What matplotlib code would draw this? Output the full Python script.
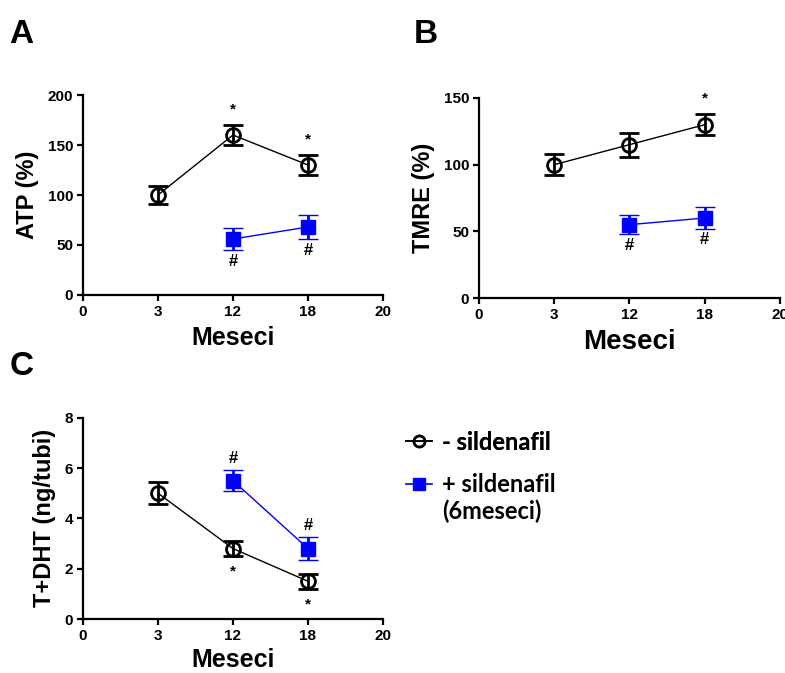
import matplotlib.pyplot as plt
from matplotlib.lines import Line2D

plt.rcParams['font.family'] = ['Liberation Sans', 'DejaVu Sans']
plt.rcParams['font.weight'] = 'bold'

# x axis is categorical in the original (equal spacing)
months = ['0', '3', '12', '18', '20']
ctrl_months = ['3', '12', '18']
sild_months = ['12', '18']

atp_ctrl = [100, 160, 130]
atp_ctrl_err = [9, 10, 10]
atp_sild = [56, 68]
atp_sild_err = [11, 12]

tmre_ctrl = [100, 115, 130]
tmre_ctrl_err = [8, 9, 8]
tmre_sild = [55, 60]
tmre_sild_err = [7, 8]

t_ctrl = [5.0, 2.8, 1.5]
t_ctrl_err = [0.44, 0.3, 0.3]
t_sild = [5.5, 2.8]
t_sild_err = [0.43, 0.46]

# significance marks
atp_ctrl_marks = ['', '*', '*']
atp_sild_marks = ['#', '#']
tmre_ctrl_marks = ['', '', '*']
tmre_sild_marks = ['#', '#']
t_ctrl_marks = ['', '*', '*']
t_sild_marks = ['#', '#']

BLUE = '#0000ff'

fig = plt.figure(figsize=(7.85, 6.73), dpi=100)


def panel(rect, ctrl, ctrl_err, sild, sild_err, ylim, yticks, ylabel, xlabel_size, xpad,
          ctrl_marks, sild_marks, ctrl_dir, sild_dir):
    ax = fig.add_axes(rect)
    xc = [months.index(m) for m in ctrl_months]
    xs = [months.index(m) for m in sild_months]
    hc = ax.errorbar(xc, ctrl, yerr=ctrl_err, fmt='-o', color='black', lw=1,
                     ms=10, mfc='none', mec='black', mew=2,
                     elinewidth=2, capsize=7, capthick=2, zorder=3)
    hs = ax.errorbar(xs, sild, yerr=sild_err, fmt='-s', color=BLUE, lw=1,
                     ms=10, mfc=BLUE, mec=BLUE, mew=1,
                     elinewidth=2, capsize=7, capthick=2, zorder=3)
    for x, v, e, m in zip(xc, ctrl, ctrl_err, ctrl_marks):
        if m:
            y = v + e if ctrl_dir == 'up' else v - e
            off = 11 if ctrl_dir == 'up' else -11
            ax.annotate(m, (x, y), xytext=(0, off), textcoords='offset points',
                        ha='center', va='center', fontsize=11, fontweight='bold')
    for x, v, e, m in zip(xs, sild, sild_err, sild_marks):
        if m:
            y = v + e if sild_dir == 'up' else v - e
            off = 8 if sild_dir == 'up' else -8
            ax.annotate(m, (x, y), xytext=(0, off), textcoords='offset points',
                        ha='center', va='center', fontsize=12, fontweight='bold')
    ax.set_xlim(0, 4)
    ax.set_xticks(range(len(months)))
    ax.set_xticklabels(months)
    ax.set_ylim(*ylim)
    ax.set_yticks(yticks)
    ax.spines['top'].set_visible(False)
    ax.spines['right'].set_visible(False)
    for s in ['left', 'bottom']:
        ax.spines[s].set_linewidth(1.6)
    ax.tick_params(direction='out', length=4, width=1.6, labelsize=11, pad=3)
    for lab in ax.get_xticklabels() + ax.get_yticklabels():
        lab.set_fontweight('bold')
    ax.set_ylabel(ylabel, fontsize=17, fontweight='bold', labelpad=6)
    ax.set_xlabel('Meseci', fontsize=xlabel_size, fontweight='bold', labelpad=xpad)
    return ax, hc, hs


panel([0.1057, 0.5617, 0.3822, 0.2971], atp_ctrl, atp_ctrl_err, atp_sild, atp_sild_err,
      (0, 200), [0, 50, 100, 150, 200], 'ATP (%)', 18, 5,
      atp_ctrl_marks, atp_sild_marks, 'up', 'down')
panel([0.6102, 0.5572, 0.3834, 0.2972], tmre_ctrl, tmre_ctrl_err, tmre_sild, tmre_sild_err,
      (0, 150), [0, 50, 100, 150], 'TMRE (%)', 20, 5,
      tmre_ctrl_marks, tmre_sild_marks, 'up', 'down')
panel([0.1057, 0.0802, 0.3822, 0.2991], t_ctrl, t_ctrl_err, t_sild, t_sild_err,
      (0, 8), [0, 2, 4, 6, 8], 'T+DHT (ng/tubi)', 18, 4,
      t_ctrl_marks, t_sild_marks, 'down', 'up')

fig.text(0.012, 0.948, 'A', fontsize=24, fontweight='bold', va='center')
fig.text(0.527, 0.948, 'B', fontsize=24, fontweight='bold', va='center')
fig.text(0.012, 0.455, 'C', fontsize=24, fontweight='bold', va='center')

# legend
lfont = {'family': ['Lato', 'DejaVu Sans'], 'weight': 'bold', 'size': 17}
h_ctrl = Line2D([], [], color='black', lw=1.2, marker='o', ms=8, mfc='none', mec='black', mew=1.8)
h_sild = Line2D([], [], color=BLUE, lw=1.2, marker='s', ms=8, mfc=BLUE, mec=BLUE)
h_none = Line2D([], [], color='none')
leg1 = fig.legend([h_ctrl], ['- sildenafil'], loc='center left', bbox_to_anchor=(0.49, 1 - 442 / 673),
                  frameon=False, prop=lfont, handlelength=1.1, handletextpad=0.45)
fig.add_artist(leg1)
fig.legend([h_sild, h_none], ['+ sildenafil', '(6meseci)'], loc='upper left',
           bbox_to_anchor=(0.49, 1 - 452 / 673), frameon=False, prop=lfont,
           handlelength=1.1, handletextpad=0.45, labelspacing=0.15)

fig.savefig('out.png', dpi=100)
